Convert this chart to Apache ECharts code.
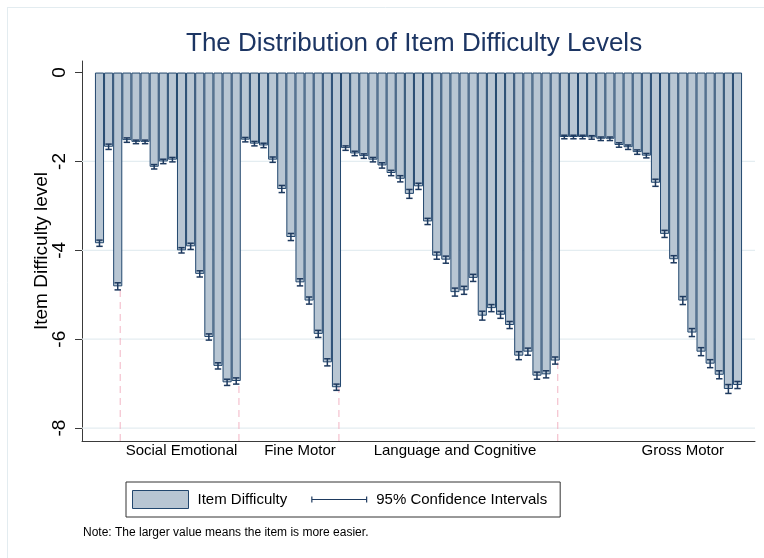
<!DOCTYPE html>
<html><head><meta charset="utf-8">
<script src="https://cdn.jsdelivr.net/npm/echarts@6/dist/echarts.min.js"></script>
<style>html,body{margin:0;padding:0;background:#fff}#c{width:764px;height:558px}</style>
</head><body><div id="c"></div>
<script>
// Item difficulty (bar value), in item order
const values = [
  -3.84, -1.67, -4.81, -1.52, -1.56, -1.56, -2.12, -2.00, -1.96, -4.00, -3.91, -4.53, -5.95, -6.60, -6.97, -6.94,
  -1.51, -1.60, -1.64, -1.96, -2.62, -3.70, -4.72, -5.13, -5.88, -6.52, -7.08,
  -1.70, -1.82, -1.88, -1.96, -2.09, -2.26, -2.39, -2.73, -2.56, -3.35, -4.12, -4.21, -4.94, -4.90, -4.62, -5.47, -5.30, -5.45, -5.68, -6.37, -6.28, -6.82, -6.79, -6.48,
  -1.45, -1.45, -1.45, -1.46, -1.49, -1.49, -1.63, -1.68, -1.79, -1.87, -2.48, -3.63, -4.20, -5.13, -5.85, -6.28, -6.55, -6.80, -7.12, -7.03
];
// Half width of the 95% confidence interval
const ciHalf = [
  0.07, 0.06, 0.08, 0.05, 0.04, 0.04, 0.05, 0.05, 0.05, 0.06, 0.07, 0.07, 0.07, 0.07, 0.07, 0.07,
  0.05, 0.05, 0.05, 0.06, 0.08, 0.08, 0.08, 0.08, 0.08, 0.08, 0.07,
  0.05, 0.05, 0.05, 0.05, 0.06, 0.06, 0.07, 0.10, 0.07, 0.07, 0.08, 0.08, 0.09, 0.09, 0.08, 0.10, 0.08, 0.08, 0.08, 0.09, 0.08, 0.08, 0.08, 0.08,
  0.04, 0.04, 0.04, 0.04, 0.04, 0.04, 0.05, 0.05, 0.05, 0.05, 0.08, 0.08, 0.08, 0.09, 0.09, 0.09, 0.09, 0.09, 0.10, 0.08
];
const groupNames = ['Social Emotional', 'Fine Motor', 'Language and Cognitive', 'Gross Motor'];
const groupLabelPos = [10, 23, 40, 65];       // x-axis units (item index)
const dividers = [3.27, 16.3, 27.27, 51.28];  // x-axis units (item index)
const yTicks = [0, -2, -4, -6, -8];

const X_MIN = -0.92, X_MAX = 72.92, Y_MIN = -8.29, Y_MAX = 0.26;
const GRID = {left: 82, right: 9, top: 61, bottom: 117};
const W = 764;
const barW = (W - GRID.left - GRID.right) / (X_MAX - X_MIN);

const barData = values.map((v, i) => [i + 1, v]);
const ciData = values.map((v, i) => [i + 1, +(v - ciHalf[i]).toFixed(3), +(v + ciHalf[i]).toFixed(3)]);
const gridData = yTicks.filter(v => v !== 0).map(v => [X_MIN, v]);
const divData = dividers.map(d => [d, Y_MIN]);

const FONT = 'Liberation Sans, Arial, Helvetica, sans-serif';
const CI_COLOR = '#1e3a5f';
const chart = echarts.init(document.getElementById('c'), null, {renderer: 'canvas'});

chart.setOption({
  animation: false,
  backgroundColor: '#ffffff',
  textStyle: {fontFamily: FONT},
  title: {
    text: 'The Distribution of Item Difficulty Levels',
    left: 181, top: 26,
    textStyle: {fontFamily: FONT, fontSize: 26, fontWeight: 'normal', color: '#1c3563'}
  },
  grid: GRID,
  legend: {
    left: 126, top: 482,
    orient: 'horizontal',
    padding: [8, 13, 8, 6],
    borderColor: '#333', borderWidth: 1,
    itemWidth: 56, itemHeight: 18, itemGap: 24,
    textStyle: {fontFamily: FONT, fontSize: 15, color: '#000', padding: [0, 0, 0, 4]},
    data: [
      {name: 'Item Difficulty', icon: 'rect', itemStyle: {color: '#b8c6d3', borderColor: '#22476e', borderWidth: 1}},
      {name: '95% Confidence Intervals',
       icon: 'path://M0,0Z M56,18Z M0,6h1.2v2.4h53.6v-2.4h1.2v6h-1.2v-2.4h-53.6v2.4h-1.2z',
       itemStyle: {color: CI_COLOR, borderWidth: 0}}
    ]
  },
  xAxis: {
    type: 'value', min: X_MIN, max: X_MAX,
    axisLine: {show: true, onZero: false, lineStyle: {color: '#3a3a3a', width: 1}},
    axisTick: {show: false},
    splitLine: {show: false},
    axisLabel: {
      customValues: groupLabelPos,
      formatter: v => groupNames[groupLabelPos.indexOf(v)] || '',
      fontFamily: FONT, fontSize: 15, color: '#000', margin: 2
    }
  },
  yAxis: {
    type: 'value', min: Y_MIN, max: Y_MAX,
    name: 'Item Difficulty level', nameLocation: 'middle', nameGap: 31,
    nameMoveOverlap: false,
    nameTextStyle: {fontFamily: FONT, fontSize: 19, color: '#000'},
    axisLine: {show: true, onZero: false, lineStyle: {color: '#3a3a3a', width: 1}},
    axisTick: {show: true, length: 7, customValues: yTicks, lineStyle: {color: '#3a3a3a'}},
    splitLine: {show: false},
    axisLabel: {customValues: yTicks, rotate: 90, fontFamily: FONT, fontSize: 19, color: '#000', margin: 13}
  },
  series: [
    {
      type: 'custom', name: 'grid', silent: true, z: 1,
      data: gridData, encode: {x: 0, y: 1},
      renderItem: (p, api) => {
        const a = api.coord([X_MIN, api.value(1)]);
        const b = api.coord([X_MAX, api.value(1)]);
        return {type: 'line', shape: {x1: a[0], y1: a[1], x2: b[0], y2: b[1]},
          style: {stroke: '#e4edf1', lineWidth: 1.2}};
      }
    },
    {
      type: 'custom', name: 'dividers', silent: true, z: 1,
      data: divData, encode: {x: 0, y: 1},
      renderItem: (p, api) => {
        const a = api.coord([api.value(0), Y_MIN]);
        const b = api.coord([api.value(0), 0]);
        return {type: 'line', shape: {x1: a[0], y1: a[1], x2: b[0], y2: b[1]},
          style: {stroke: '#f2b4c4', lineWidth: 1, lineDash: [7, 5]}};
      }
    },
    {
      type: 'bar', name: 'Item Difficulty', z: 2,
      data: barData, barWidth: barW,
      itemStyle: {color: '#b8c6d3', borderColor: '#22476e', borderWidth: 1}
    },
    {
      type: 'custom', name: '95% Confidence Intervals', z: 3,
      data: ciData, encode: {x: 0, y: [1, 2]},
      itemStyle: {color: CI_COLOR},
      renderItem: (p, api) => {
        const x = api.value(0);
        const lo = api.coord([x, api.value(1)]);
        const hi = api.coord([x, api.value(2)]);
        const h = 3.2;
        const st = {stroke: CI_COLOR, lineWidth: 1.5};
        return {type: 'group', children: [
          {type: 'line', shape: {x1: lo[0], y1: lo[1], x2: hi[0], y2: hi[1]}, style: st},
          {type: 'line', shape: {x1: lo[0] - h, y1: lo[1], x2: lo[0] + h, y2: lo[1]}, style: st},
          {type: 'line', shape: {x1: hi[0] - h, y1: hi[1], x2: hi[0] + h, y2: hi[1]}, style: st}
        ]};
      }
    }
  ],
  graphic: [
    {type: 'line', shape: {x1: 7.5, y1: 7, x2: 7.5, y2: 558}, style: {stroke: '#e3ecf0', lineWidth: 1}, silent: true},
    {type: 'line', shape: {x1: 7, y1: 7.5, x2: 764, y2: 7.5}, style: {stroke: '#e3ecf0', lineWidth: 1}, silent: true},
    {type: 'text', left: 83, top: 527, style: {text: 'Note: The larger value means the item is more easier.', font: '12px ' + FONT, fill: '#000'}, silent: true}
  ]
});
</script>
</body></html>
